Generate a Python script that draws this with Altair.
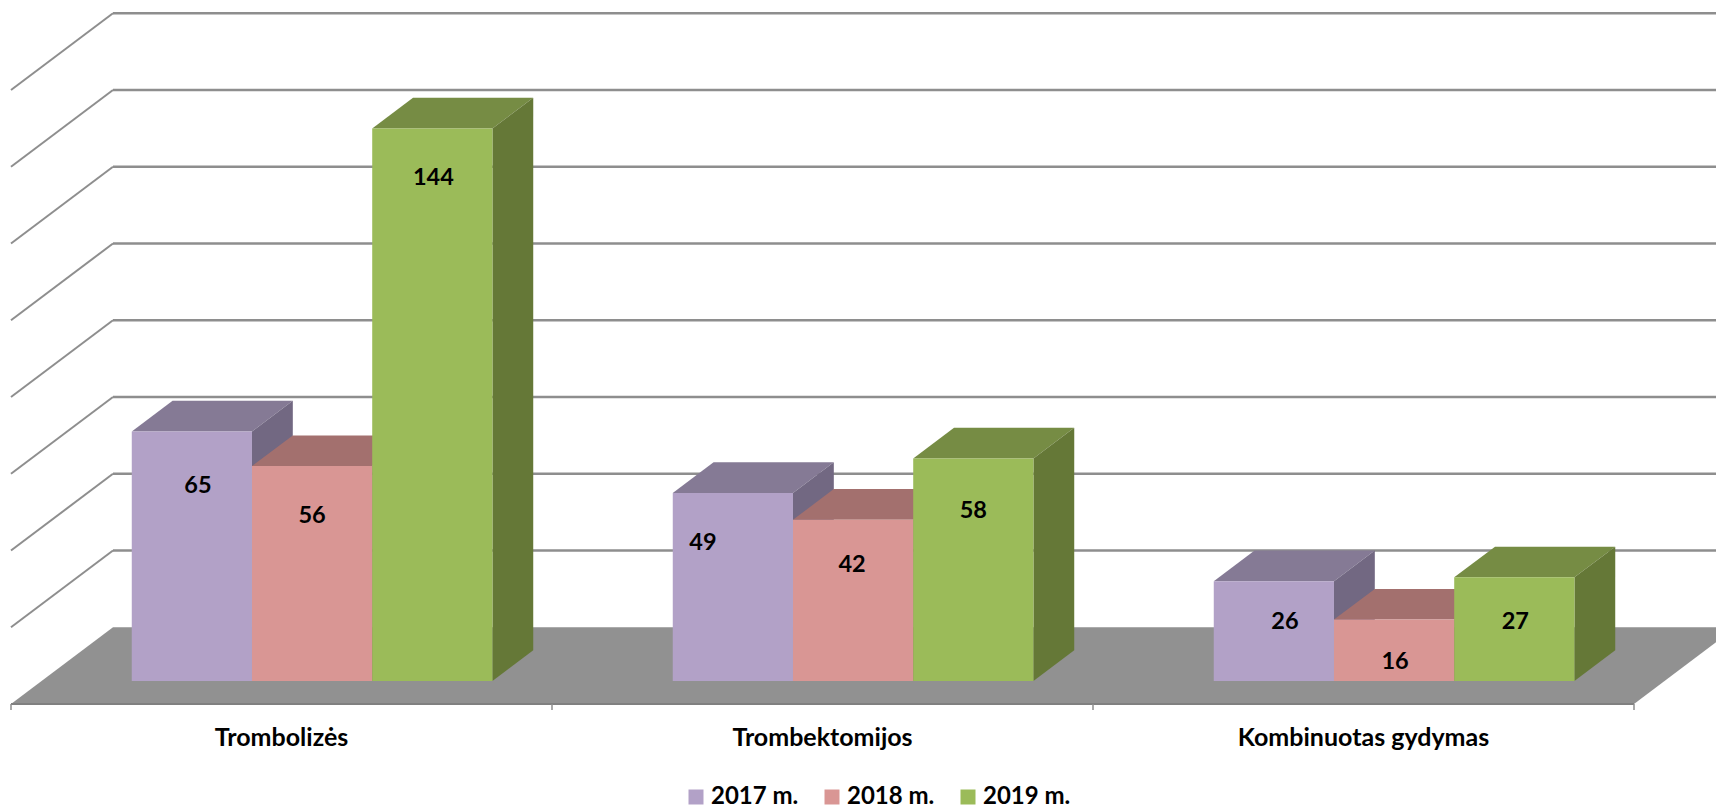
import altair as alt
import pandas as pd

# ---- values ----
categories = ["Trombolizės", "Trombektomijos", "Kombinuotas gydymas"]
years = ["2017 m.", "2018 m.", "2019 m."]
values_2017 = [65, 49, 26]
values_2018 = [56, 42, 16]
values_2019 = [144, 58, 27]
grid_levels = [20, 40, 60, 80, 100, 120, 140, 160]

# ---- styles and layout, kept apart from the values ----
front_colors = ["#b2a1c7", "#d99694", "#9bbb59"]
top_colors = ["#857a95", "#a3706e", "#768c44"]
side_colors = ["#726882", "#8d605f", "#657837"]
GRID = "#8e8e8e"
FONT = "Lato"
PX_X = 541.0          # pixels per category
PX_Y = 3.8375         # pixels per value unit
W, H = 1708, 802
ORIGIN_X, ORIGIN_Y = 11, 704   # page position of the floor's front left corner
SKEW_X = 102 / PX_X   # full depth, in category units
SKEW_Y = 20.0         # full depth, in value units
Z_FRONT, Z_BACK = 0.3, 0.7
GAP, BAR = 1 / 6, 2 / 9
# label nudges in pixels from the bar's centre and front top
label_dx = [[6, 0, 1], [-30, -1, 0], [11, 1, 1]]
label_dy = [[54, 50, 50], [50, 45, 53], [41, 42, 45]]
series = [values_2017, values_2018, values_2019]

x_scale = alt.Scale(domain=[(8 - ORIGIN_X) / PX_X, (8 + W - ORIGIN_X) / PX_X], range=[0, W], nice=False, zero=False)
y_scale = alt.Scale(domain=[(ORIGIN_Y - 8 - H) / PX_Y, (ORIGIN_Y - 8) / PX_Y], range=[H, 0], nice=False, zero=False)
X = lambda f, **k: alt.X(f, type="quantitative", scale=x_scale, axis=None, **k)
Y = lambda f, **k: alt.Y(f, type="quantitative", scale=y_scale, axis=None, **k)
n = len(categories)

# floor
floor = pd.DataFrame([
    {"y": 0.0, "x": 0.0, "x2": float(n)},
    {"y": SKEW_Y, "x": SKEW_X, "x2": n + SKEW_X},
])
floor_layer = alt.Chart(floor).mark_area(orient="horizontal", color="#919191", opacity=1, clip=True).encode(
    y=Y("y"), x=X("x"), x2="x2")

# wall gridlines
back = pd.DataFrame({"y": [v + SKEW_Y for v in grid_levels], "x": SKEW_X, "x2": n + SKEW_X})
back_layer = alt.Chart(back).mark_rule(color=GRID, strokeWidth=2.4, clip=True).encode(
    x=X("x"), x2="x2", y=Y("y"))
side_rows = []
for v in grid_levels:
    side_rows += [{"lvl": v, "x": 0.0, "y": float(v)}, {"lvl": v, "x": SKEW_X, "y": v + SKEW_Y}]
side_layer = alt.Chart(pd.DataFrame(side_rows)).mark_line(color=GRID, strokeWidth=2).encode(
    x=X("x"), y=Y("y"), detail="lvl:N")

# axis line, ticks and category names
axis_layer = alt.Chart(pd.DataFrame({"x": [0.0], "x2": [float(n)], "y": [0.0]})).mark_rule(
    color="#808080", strokeWidth=2).encode(x=X("x"), x2="x2", y=Y("y"))
ticks = pd.DataFrame({"x": [float(i) for i in range(n + 1)], "y": 0.0, "y2": -6 / PX_Y})
tick_layer = alt.Chart(ticks).mark_rule(color="#8e8e8e", strokeWidth=1.5).encode(
    x=X("x"), y=Y("y"), y2="y2")
names = pd.DataFrame({"name": categories, "x": [i + 0.5 for i in range(n)], "y": -34 / PX_Y})
name_layer = alt.Chart(names).mark_text(font=FONT, fontWeight="bold", fontSize=25, color="black", baseline="middle").encode(
    x=X("x"), y=Y("y"), text="name:N")

# bars
front_rows, label_rows = [], []
dy_front, dy_back = SKEW_Y * Z_FRONT, SKEW_Y * Z_BACK
dx_front, dx_back = SKEW_X * Z_FRONT, SKEW_X * Z_BACK
face_layers = []
for s, (year, vals) in enumerate(zip(years, series)):
    top_rows, side_face = [], []
    for c, v in enumerate(vals):
        left = c + GAP + s * BAR
        right = left + BAR
        top_rows += [
            {"id": c, "y": v + dy_front, "x": left + dx_front, "x2": right + dx_front},
            {"id": c, "y": v + dy_back, "x": left + dx_back, "x2": right + dx_back},
        ]
        side_face += [
            {"id": c, "x": right + dx_front, "y": v + dy_front, "y2": dy_front},
            {"id": c, "x": right + dx_back, "y": v + dy_back, "y2": dy_back},
        ]
        front_rows.append({"year": year, "x": left + dx_front, "x2": right + dx_front,
                           "y": v + dy_front, "y2": dy_front})
        label_rows.append({"v": v, "x": left + dx_front + BAR / 2 + label_dx[c][s] / PX_X,
                           "y": v + dy_front - label_dy[c][s] / PX_Y})
    face_layers.append(alt.Chart(pd.DataFrame(top_rows)).mark_area(orient="horizontal", color=top_colors[s], opacity=1).encode(
        y=Y("y"), x=X("x"), x2="x2", detail="id:N"))
    face_layers.append(alt.Chart(pd.DataFrame(side_face)).mark_area(color=side_colors[s], opacity=1).encode(
        x=X("x"), y=Y("y"), y2="y2", detail="id:N"))

front_layer = alt.Chart(pd.DataFrame(front_rows)).mark_rect(opacity=1).encode(
    x=X("x"), x2="x2", y=Y("y"), y2="y2",
    color=alt.Color("year:N", scale=alt.Scale(domain=years, range=front_colors), legend=alt.Legend(
        title=None, orient="none", direction="horizontal", columns=3, legendX=676, legendY=777,
        symbolType="square", symbolSize=225, symbolStrokeWidth=0, symbolOffset=0, symbolOpacity=1,
        labelFont=FONT, labelFontWeight="bold", labelFontSize=24, labelColor="black",
        labelOffset=3, columnPadding=21, padding=0)),
)
label_layer = alt.Chart(pd.DataFrame(label_rows)).mark_text(
    font=FONT, fontWeight="bold", fontSize=23.5, color="black", baseline="middle").encode(
    x=X("x"), y=Y("y"), text="v:Q")

chart = alt.layer(
    floor_layer, back_layer, side_layer, axis_layer, tick_layer, name_layer,
    *face_layers, front_layer, label_layer,
).properties(width=W, height=H, padding=0, autosize=alt.AutoSizeParams(type="none")).configure_view(stroke=None)

chart.save("out.html", embed_options={"renderer": "svg", "actions": False})
